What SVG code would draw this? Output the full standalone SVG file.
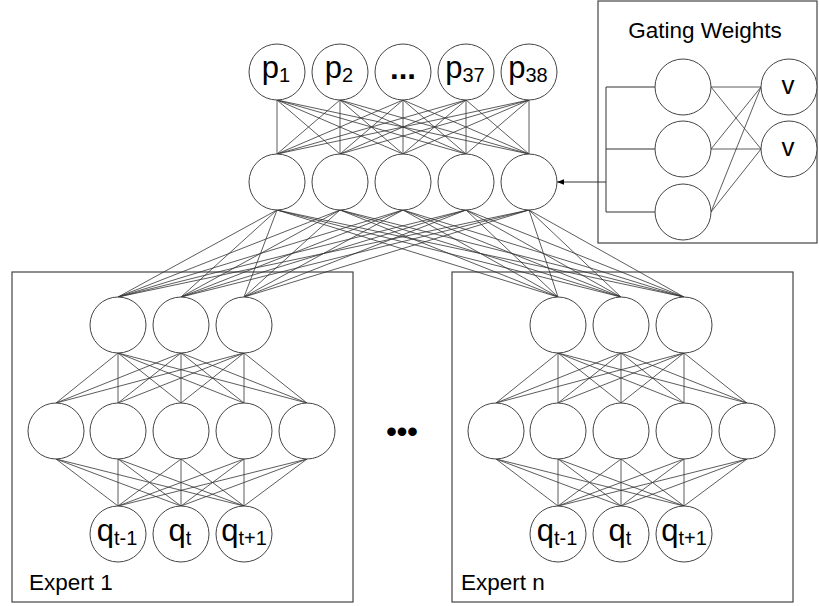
<svg xmlns="http://www.w3.org/2000/svg" width="819" height="606" viewBox="0 0 819 606">
<defs>
<style>
.n{fill:#fff;stroke:#444;stroke-width:1}
.box{fill:none;stroke:#444;stroke-width:1.2}
.c line{stroke:#333;stroke-width:0.8}
.c path{fill:none;stroke:#333;stroke-width:1}
.lb{font-family:"Liberation Sans",Arial,sans-serif;font-size:31px;fill:#000;text-anchor:middle}
.sub{font-size:20px}
.tt{font-family:"Liberation Sans",Arial,sans-serif;font-size:22.5px;fill:#000}
</style>
<marker id="ah" viewBox="0 0 10 10" refX="10" refY="5" markerWidth="7" markerHeight="7" orient="auto" markerUnits="userSpaceOnUse">
<path d="M0,1 L10,5 L0,9 z" fill="#000"/>
</marker>
</defs>
<rect width="819" height="606" fill="#fff"/>

<!-- containers -->
<rect id="gating-box" class="box" x="598" y="1" width="219" height="242"/>
<rect id="expert1-box" class="box" x="12" y="272" width="341" height="330"/>
<rect id="expertn-box" class="box" x="452" y="272" width="341" height="330"/>

<g id="connectors" class="c">
<!-- output layer to hidden layer -->
<line x1="277" y1="100" x2="277" y2="154"/><line x1="277" y1="100" x2="340" y2="154"/><line x1="277" y1="100" x2="403" y2="154"/><line x1="277" y1="100" x2="466" y2="154"/><line x1="277" y1="100" x2="529" y2="154"/>
<line x1="340" y1="100" x2="277" y2="154"/><line x1="340" y1="100" x2="340" y2="154"/><line x1="340" y1="100" x2="403" y2="154"/><line x1="340" y1="100" x2="466" y2="154"/><line x1="340" y1="100" x2="529" y2="154"/>
<line x1="403" y1="100" x2="277" y2="154"/><line x1="403" y1="100" x2="340" y2="154"/><line x1="403" y1="100" x2="403" y2="154"/><line x1="403" y1="100" x2="466" y2="154"/><line x1="403" y1="100" x2="529" y2="154"/>
<line x1="466" y1="100" x2="277" y2="154"/><line x1="466" y1="100" x2="340" y2="154"/><line x1="466" y1="100" x2="403" y2="154"/><line x1="466" y1="100" x2="466" y2="154"/><line x1="466" y1="100" x2="529" y2="154"/>
<line x1="529" y1="100" x2="277" y2="154"/><line x1="529" y1="100" x2="340" y2="154"/><line x1="529" y1="100" x2="403" y2="154"/><line x1="529" y1="100" x2="466" y2="154"/><line x1="529" y1="100" x2="529" y2="154"/>
<!-- hidden layer to experts -->
<line x1="277" y1="210" x2="118" y2="297"/><line x1="277" y1="210" x2="181" y2="297"/><line x1="277" y1="210" x2="244" y2="297"/><line x1="277" y1="210" x2="558" y2="297"/><line x1="277" y1="210" x2="621" y2="297"/><line x1="277" y1="210" x2="684" y2="297"/>
<line x1="340" y1="210" x2="118" y2="297"/><line x1="340" y1="210" x2="181" y2="297"/><line x1="340" y1="210" x2="244" y2="297"/><line x1="340" y1="210" x2="558" y2="297"/><line x1="340" y1="210" x2="621" y2="297"/><line x1="340" y1="210" x2="684" y2="297"/>
<line x1="403" y1="210" x2="118" y2="297"/><line x1="403" y1="210" x2="181" y2="297"/><line x1="403" y1="210" x2="244" y2="297"/><line x1="403" y1="210" x2="558" y2="297"/><line x1="403" y1="210" x2="621" y2="297"/><line x1="403" y1="210" x2="684" y2="297"/>
<line x1="466" y1="210" x2="118" y2="297"/><line x1="466" y1="210" x2="181" y2="297"/><line x1="466" y1="210" x2="244" y2="297"/><line x1="466" y1="210" x2="558" y2="297"/><line x1="466" y1="210" x2="621" y2="297"/><line x1="466" y1="210" x2="684" y2="297"/>
<line x1="529" y1="210" x2="118" y2="297"/><line x1="529" y1="210" x2="181" y2="297"/><line x1="529" y1="210" x2="244" y2="297"/><line x1="529" y1="210" x2="558" y2="297"/><line x1="529" y1="210" x2="621" y2="297"/><line x1="529" y1="210" x2="684" y2="297"/>
<!-- expert 1: top to middle -->
<line x1="118" y1="353" x2="56" y2="403"/><line x1="118" y1="353" x2="118" y2="403"/><line x1="118" y1="353" x2="181" y2="403"/><line x1="118" y1="353" x2="244" y2="403"/><line x1="118" y1="353" x2="307" y2="403"/>
<line x1="181" y1="353" x2="56" y2="403"/><line x1="181" y1="353" x2="118" y2="403"/><line x1="181" y1="353" x2="181" y2="403"/><line x1="181" y1="353" x2="244" y2="403"/><line x1="181" y1="353" x2="307" y2="403"/>
<line x1="244" y1="353" x2="56" y2="403"/><line x1="244" y1="353" x2="118" y2="403"/><line x1="244" y1="353" x2="181" y2="403"/><line x1="244" y1="353" x2="244" y2="403"/><line x1="244" y1="353" x2="307" y2="403"/>
<!-- expert 1: middle to inputs -->
<line x1="56" y1="459" x2="118" y2="506"/><line x1="56" y1="459" x2="181" y2="506"/><line x1="56" y1="459" x2="244" y2="506"/>
<line x1="118" y1="459" x2="118" y2="506"/><line x1="118" y1="459" x2="181" y2="506"/><line x1="118" y1="459" x2="244" y2="506"/>
<line x1="181" y1="459" x2="118" y2="506"/><line x1="181" y1="459" x2="181" y2="506"/><line x1="181" y1="459" x2="244" y2="506"/>
<line x1="244" y1="459" x2="118" y2="506"/><line x1="244" y1="459" x2="181" y2="506"/><line x1="244" y1="459" x2="244" y2="506"/>
<line x1="307" y1="459" x2="118" y2="506"/><line x1="307" y1="459" x2="181" y2="506"/><line x1="307" y1="459" x2="244" y2="506"/>
<!-- expert n: top to middle -->
<line x1="558" y1="353" x2="496" y2="403"/><line x1="558" y1="353" x2="558" y2="403"/><line x1="558" y1="353" x2="621" y2="403"/><line x1="558" y1="353" x2="684" y2="403"/><line x1="558" y1="353" x2="747" y2="403"/>
<line x1="621" y1="353" x2="496" y2="403"/><line x1="621" y1="353" x2="558" y2="403"/><line x1="621" y1="353" x2="621" y2="403"/><line x1="621" y1="353" x2="684" y2="403"/><line x1="621" y1="353" x2="747" y2="403"/>
<line x1="684" y1="353" x2="496" y2="403"/><line x1="684" y1="353" x2="558" y2="403"/><line x1="684" y1="353" x2="621" y2="403"/><line x1="684" y1="353" x2="684" y2="403"/><line x1="684" y1="353" x2="747" y2="403"/>
<!-- expert n: middle to inputs -->
<line x1="496" y1="459" x2="558" y2="506"/><line x1="496" y1="459" x2="621" y2="506"/><line x1="496" y1="459" x2="684" y2="506"/>
<line x1="558" y1="459" x2="558" y2="506"/><line x1="558" y1="459" x2="621" y2="506"/><line x1="558" y1="459" x2="684" y2="506"/>
<line x1="621" y1="459" x2="558" y2="506"/><line x1="621" y1="459" x2="621" y2="506"/><line x1="621" y1="459" x2="684" y2="506"/>
<line x1="684" y1="459" x2="558" y2="506"/><line x1="684" y1="459" x2="621" y2="506"/><line x1="684" y1="459" x2="684" y2="506"/>
<line x1="747" y1="459" x2="558" y2="506"/><line x1="747" y1="459" x2="621" y2="506"/><line x1="747" y1="459" x2="684" y2="506"/>
<!-- gating network -->
<path d="M655,87 H606 V212 H655 M606,149 H655"/>
<line x1="711" y1="87" x2="761" y2="87"/><line x1="711" y1="87" x2="761" y2="149"/>
<line x1="711" y1="149" x2="761" y2="87"/><line x1="711" y1="149" x2="761" y2="149"/>
<line x1="711" y1="212" x2="761" y2="87"/><line x1="711" y1="212" x2="761" y2="149"/>
<path d="M606,182 H557" marker-end="url(#ah)"/>
</g>

<!-- output layer -->
<g id="p1"><circle class="n" cx="277" cy="72" r="28"/><text class="lb" x="276" y="78">p<tspan class="sub" dy="4">1</tspan></text></g>
<g id="p2"><circle class="n" cx="340" cy="72" r="28"/><text class="lb" x="339" y="78">p<tspan class="sub" dy="4">2</tspan></text></g>
<g id="p-dots"><circle class="n" cx="403" cy="72" r="28"/><text class="lb" x="403" y="79" font-weight="bold">...</text></g>
<g id="p37"><circle class="n" cx="466" cy="72" r="28"/><text class="lb" x="465" y="78">p<tspan class="sub" dy="4">37</tspan></text></g>
<g id="p38"><circle class="n" cx="529" cy="72" r="28"/><text class="lb" x="528" y="78">p<tspan class="sub" dy="4">38</tspan></text></g>

<!-- hidden layer -->
<g id="h1"><circle class="n" cx="277" cy="182" r="28"/></g>
<g id="h2"><circle class="n" cx="340" cy="182" r="28"/></g>
<g id="h3"><circle class="n" cx="403" cy="182" r="28"/></g>
<g id="h4"><circle class="n" cx="466" cy="182" r="28"/></g>
<g id="h5"><circle class="n" cx="529" cy="182" r="28"/></g>

<!-- gating -->
<g id="gating-title"><text class="tt" x="705" y="38" text-anchor="middle">Gating Weights</text></g>
<g id="g1"><circle class="n" cx="683" cy="87" r="28"/></g>
<g id="g2"><circle class="n" cx="683" cy="149" r="28"/></g>
<g id="g3"><circle class="n" cx="683" cy="212" r="28"/></g>
<g id="v1"><circle class="n" cx="789" cy="87" r="28"/><text class="lb" x="788" y="94" style="font-size:26px">v</text></g>
<g id="v2"><circle class="n" cx="789" cy="149" r="28"/><text class="lb" x="788" y="156" style="font-size:26px">v</text></g>

<!-- expert 1 -->
<g id="e1-t1"><circle class="n" cx="118" cy="325" r="28"/></g>
<g id="e1-t2"><circle class="n" cx="181" cy="325" r="28"/></g>
<g id="e1-t3"><circle class="n" cx="244" cy="325" r="28"/></g>
<g id="e1-m1"><circle class="n" cx="56" cy="431" r="28"/></g>
<g id="e1-m2"><circle class="n" cx="118" cy="431" r="28"/></g>
<g id="e1-m3"><circle class="n" cx="181" cy="431" r="28"/></g>
<g id="e1-m4"><circle class="n" cx="244" cy="431" r="28"/></g>
<g id="e1-m5"><circle class="n" cx="307" cy="431" r="28"/></g>
<g id="e1-q1"><circle class="n" cx="118" cy="534" r="28"/><text class="lb" x="117" y="541">q<tspan class="sub" dy="4">t-1</tspan></text></g>
<g id="e1-q2"><circle class="n" cx="181" cy="534" r="28"/><text class="lb" x="180" y="541">q<tspan class="sub" dy="4">t</tspan></text></g>
<g id="e1-q3"><circle class="n" cx="244" cy="534" r="28"/><text class="lb" x="244" y="541">q<tspan class="sub" dy="4">t+1</tspan></text></g>
<g id="e1-label"><text class="tt" x="29" y="590">Expert 1</text></g>

<!-- expert n -->
<g id="en-t1"><circle class="n" cx="558" cy="325" r="28"/></g>
<g id="en-t2"><circle class="n" cx="621" cy="325" r="28"/></g>
<g id="en-t3"><circle class="n" cx="684" cy="325" r="28"/></g>
<g id="en-m1"><circle class="n" cx="496" cy="431" r="28"/></g>
<g id="en-m2"><circle class="n" cx="558" cy="431" r="28"/></g>
<g id="en-m3"><circle class="n" cx="621" cy="431" r="28"/></g>
<g id="en-m4"><circle class="n" cx="684" cy="431" r="28"/></g>
<g id="en-m5"><circle class="n" cx="747" cy="431" r="28"/></g>
<g id="en-q1"><circle class="n" cx="558" cy="534" r="28"/><text class="lb" x="557" y="541">q<tspan class="sub" dy="4">t-1</tspan></text></g>
<g id="en-q2"><circle class="n" cx="621" cy="534" r="28"/><text class="lb" x="620" y="541">q<tspan class="sub" dy="4">t</tspan></text></g>
<g id="en-q3"><circle class="n" cx="684" cy="534" r="28"/><text class="lb" x="684" y="541">q<tspan class="sub" dy="4">t+1</tspan></text></g>
<g id="en-label"><text class="tt" x="461" y="590">Expert n</text></g>

<g id="experts-ellipsis"><text class="lb" x="402" y="442" font-weight="bold" style="font-size:30px">•••</text></g>
</svg>
